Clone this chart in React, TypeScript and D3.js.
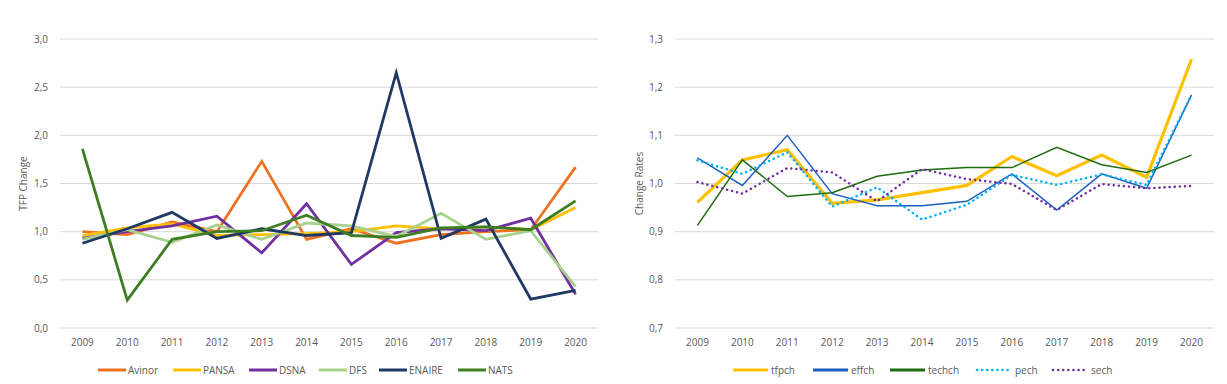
import React from 'react'
import * as d3 from 'd3'

const years = ['2009', '2010', '2011', '2012', '2013', '2014', '2015', '2016', '2017', '2018', '2019', '2020']

// left chart: TFP change per ANSP
const avinor = [1.0, 0.97, 1.1, 1.0, 1.73, 0.92, 1.03, 0.88, 0.97, 1.0, 1.02, 1.67]
const pansa = [0.96, 1.04, 1.08, 0.96, 0.97, 0.98, 1.0, 1.06, 1.03, 1.05, 1.02, 1.25]
const dsna = [0.93, 1.0, 1.06, 1.16, 0.78, 1.29, 0.66, 0.99, 1.03, 1.01, 1.14, 0.35]
const dfs = [0.92, 1.02, 0.89, 1.07, 0.92, 1.09, 1.06, 0.95, 1.19, 0.92, 1.01, 0.43]
const enaire = [0.88, 1.03, 1.2, 0.93, 1.03, 0.96, 0.99, 2.65, 0.93, 1.13, 0.3, 0.39]
const nats = [1.86, 0.29, 0.92, 1.0, 1.01, 1.17, 0.96, 0.94, 1.04, 1.05, 1.02, 1.32]

// right chart: change rates
const tfpch = [0.961, 1.049, 1.07, 0.959, 0.966, 0.981, 0.996, 1.056, 1.016, 1.059, 1.013, 1.258]
const effch = [1.053, 0.996, 1.1, 0.979, 0.954, 0.954, 0.963, 1.02, 0.945, 1.02, 0.99, 1.184]
const techch = [0.913, 1.049, 0.973, 0.981, 1.015, 1.028, 1.033, 1.033, 1.075, 1.039, 1.023, 1.059]
const pech = [1.048, 1.02, 1.065, 0.952, 0.992, 0.925, 0.956, 1.018, 0.997, 1.019, 0.997, 1.184]
const sech = [1.003, 0.979, 1.032, 1.023, 0.963, 1.03, 1.009, 0.999, 0.945, 0.999, 0.99, 0.995]

const leftTicks = [0, 0.5, 1, 1.5, 2, 2.5, 3]
const rightTicks = [0.7, 0.8, 0.9, 1.0, 1.1, 1.2, 1.3]

const leftSeries = [
  { name: 'Avinor', values: avinor, color: '#EF7222', width: 2.8 },
  { name: 'PANSA', values: pansa, color: '#FFC000', width: 2.8 },
  { name: 'DSNA', values: dsna, color: '#7030A0', width: 2.8 },
  { name: 'DFS', values: dfs, color: '#A9D18E', width: 2.8 },
  { name: 'ENAIRE', values: enaire, color: '#1F3864', width: 2.8 },
  { name: 'NATS', values: nats, color: '#3E7E22', width: 2.8 },
]

const rightSeries = [
  { name: 'tfpch', values: tfpch, color: '#FFC000', width: 3.2, dash: null },
  { name: 'effch', values: effch, color: '#1F5FC2', width: 1.5, dash: null },
  { name: 'techch', values: techch, color: '#1E6B10', width: 1.5, dash: null },
  { name: 'pech', values: pech, color: '#00B0F0', width: 2.5, dash: '0.1 5' },
  { name: 'sech', values: sech, color: '#7030A0', width: 2.5, dash: '0.1 5' },
]

const font = '"Open Sans", "Noto Sans", sans-serif'
const textColor = '#595959'
const gridColor = '#D9D9D9'

function Panel({ x0, x1, y0, y1, domain, ticks, fmt, title, titleX, series, legend }) {
  const x = d3.scaleBand().domain(years).range([x0, x1])
  const y = d3.scaleLinear().domain(domain).range([y1, y0])
  const line = d3.line<number>()
    .x((d, i) => x(years[i])! + x.bandwidth() / 2)
    .y(d => y(d))
  return (
    <g>
      {ticks.map(t => (
        <g key={t}>
          <line x1={x0} x2={x1} y1={y(t)} y2={y(t)} stroke={gridColor} strokeWidth={1} />
          <text x={x0 - 12} y={y(t)} dy="0.35em" textAnchor="end" fontSize={10} fill={textColor} fontFamily={font}>
            {fmt(t)}
          </text>
        </g>
      ))}
      {years.map(yr => (
        <text key={yr} x={x(yr)! + x.bandwidth() / 2} y={y1 + 18} textAnchor="middle" fontSize={10}
          fill={textColor} fontFamily={font}>{yr}</text>
      ))}
      <text transform={`translate(${titleX},${(y0 + y1) / 2}) rotate(-90)`} textAnchor="middle" dy="0.35em"
        fontSize={10} fill={textColor} fontFamily={font}>{title}</text>
      {series.map(s => (
        <path key={s.name} d={line(s.values)!} fill="none" stroke={s.color} strokeWidth={s.width}
          strokeLinejoin="miter" strokeLinecap={s.dash ? 'round' : 'butt'}
          strokeDasharray={s.dash || undefined} />
      ))}
      {series.map((s, i) => {
        const lx = legend[i]
        return (
          <g key={'lg' + s.name}>
            <line x1={lx} x2={lx + legend.len} y1={370} y2={370} stroke={s.color}
              strokeWidth={s.dash ? 2.5 : 3} strokeLinecap={s.dash ? 'round' : 'butt'}
              strokeDasharray={s.dash || undefined} />
            <text x={lx + legend.len + legend.gap} y={370} dy="0.35em" fontSize={10} fill={textColor}
              fontFamily={font}>{s.name}</text>
          </g>
        )
      })}
    </g>
  )
}

export default function App() {
  const fmt1 = (v: number) => d3.format('.1f')(v).replace('.', ',')
  const leftLegend: any = [98, 173, 249, 319, 379, 458]
  leftLegend.len = 28
  leftLegend.gap = 2
  const rightLegend: any = [733, 813, 890, 977, 1053]
  rightLegend.len = 35
  rightLegend.gap = 3
  return (
    <div style={{ position: 'absolute', left: 0, top: 0 }}>
      <svg width={1227} height={384} style={{ display: 'block', background: '#fff' }}>
        <Panel x0={60} x1={598} y0={39} y1={328} domain={[0, 3]} ticks={leftTicks} fmt={fmt1}
          title="TFP Change" titleX={23} series={leftSeries} legend={leftLegend} />
        <Panel x0={675} x1={1214} y0={39} y1={328} domain={[0.7, 1.3]} ticks={rightTicks} fmt={fmt1}
          title="Change Rates" titleX={639} series={rightSeries} legend={rightLegend} />
      </svg>
    </div>
  )
}
